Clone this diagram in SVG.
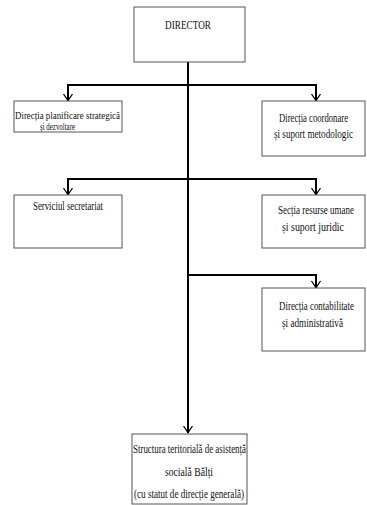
<svg xmlns="http://www.w3.org/2000/svg" width="367" height="505" viewBox="0 0 367 505">
<style>
.box{fill:#fff;stroke:#555;stroke-width:1}
.t{font-family:"Liberation Serif","Times New Roman",serif;font-size:8px;fill:#111;text-anchor:middle}
.s{font-size:7.3px}
.c{fill:none;stroke:#000;stroke-width:2}
.a{fill:none;stroke:#000;stroke-width:1.3}
</style>
<rect width="367" height="505" fill="#fff"/>
<g id="connectors">
<path class="c" d="M188,62 V433"/>
<path class="c" d="M68,101 V85 H316 V101"/>
<path class="c" d="M68,195 V179 H316 V195"/>
<path class="c" d="M188,275 H316 V288"/>
<path class="a" d="M63.5,94 L68,100.5 L72.5,94"/>
<path class="a" d="M311.5,94 L316,100.5 L320.5,94"/>
<path class="a" d="M63.5,188 L68,194.5 L72.5,188"/>
<path class="a" d="M311.5,188 L316,194.5 L320.5,188"/>
<path class="a" d="M311.5,281 L316,287.5 L320.5,281"/>
<path class="a" d="M183.5,426 L188,432.5 L192.5,426"/>
</g>
<g id="director">
<rect class="box" x="134" y="7" width="111" height="55"/>
<text class="t" transform="translate(188,29) scale(1,1.5)" font-size="9.3" textLength="46" lengthAdjust="spacingAndGlyphs">DIRECTOR</text>
</g>
<g id="planificare">
<rect class="box" x="14" y="101" width="108" height="31"/>
<text class="t s" transform="translate(67.5,119) scale(1,1.5)" textLength="105" lengthAdjust="spacingAndGlyphs">Direcția planificare strategică</text>
<text class="t s" transform="translate(57.5,129.5) scale(1,1.5)" textLength="35" lengthAdjust="spacingAndGlyphs">și dezvoltare</text>
</g>
<g id="coordonare">
<rect class="box" x="262" y="101" width="103" height="55"/>
<text class="t" transform="translate(313.5,122) scale(1,1.5)" textLength="69" lengthAdjust="spacingAndGlyphs">Direcția coordonare</text>
<text class="t" transform="translate(313.5,138) scale(1,1.5)" textLength="79" lengthAdjust="spacingAndGlyphs">și suport metodologic</text>
</g>
<g id="secretariat">
<rect class="box" x="14" y="195" width="108" height="53"/>
<text class="t" transform="translate(68,210) scale(1,1.5)" textLength="70" lengthAdjust="spacingAndGlyphs">Serviciul secretariat</text>
</g>
<g id="resurse">
<rect class="box" x="262" y="195" width="103" height="53"/>
<text class="t" transform="translate(316,214) scale(1,1.5)" textLength="76" lengthAdjust="spacingAndGlyphs">Secția resurse umane</text>
<text class="t" transform="translate(313,231) scale(1,1.5)" textLength="62" lengthAdjust="spacingAndGlyphs">și suport juridic</text>
</g>
<g id="contabilitate">
<rect class="box" x="262" y="288" width="103" height="63"/>
<text class="t" transform="translate(316.5,310) scale(1,1.5)" textLength="75" lengthAdjust="spacingAndGlyphs">Direcția contabilitate</text>
<text class="t" transform="translate(312.5,327) scale(1,1.5)" textLength="61" lengthAdjust="spacingAndGlyphs">și administrativă</text>
</g>
<g id="structura">
<rect class="box" x="132" y="434" width="115" height="70"/>
<text class="t" transform="translate(189.5,453) scale(1,1.5)" textLength="113" lengthAdjust="spacingAndGlyphs">Structura teritorială de asistență</text>
<text class="t" transform="translate(189,476) scale(1,1.5)" textLength="48" lengthAdjust="spacingAndGlyphs">socială Bălți</text>
<text class="t" transform="translate(189,498) scale(1,1.5)" textLength="110" lengthAdjust="spacingAndGlyphs">(cu statut de direcție generală)</text>
</g>
</svg>
